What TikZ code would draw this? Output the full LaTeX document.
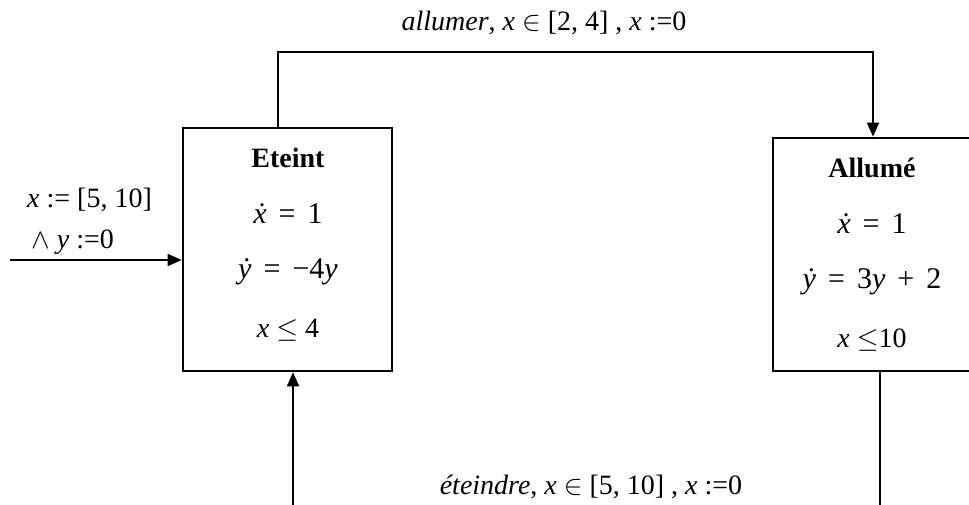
\RequirePackage{fix-cm}
\documentclass[tikz,border=0pt]{standalone}
\usepackage{fontspec}
\setmainfont{Liberation Serif}
\usetikzlibrary{arrows.meta}
\newcommand{\dx}{\textit{ẋ}}
\newcommand{\dy}{\textit{ẏ}}
\newcommand{\opsp}[1]{\hspace{0.4em}#1\hspace{0.4em}}
\begin{document}
\begin{tikzpicture}[x=1pt,y=-1pt,
  statebox/.style={draw, line width=2.6pt, inner sep=0pt},
  txt/.style={inner sep=0pt, font=\fontsize{28}{32}\selectfont},
  mth/.style={inner sep=0pt, font=\fontsize{30}{34}\selectfont},
  ttl/.style={inner sep=0pt, font=\fontsize{28}{32}\selectfont\bfseries},
  conn/.style={line width=1.6pt},
  arr/.style={conn, -{Triangle[length=14pt,width=12pt]}}]
\useasboundingbox (0,0) rectangle (969,504);
\clip (0,0) rectangle (969,504);
\node[statebox, minimum width=209pt, minimum height=243pt] (eteint) at (287.5,249.5) {};
\node[statebox, minimum width=200pt, minimum height=233pt] (allume) at (873,254.5) {};
% contents
\node[ttl] (e1) at (288,158) {Eteint};
\node[mth] (e2) at (288,214) {\dx\opsp{=}1};
\node[mth] (e3) at (288,272) {\dy\opsp{=}−4\textit{y}};
\node[txt] (e4) at (288,330) {\textit{x} $\leq$ 4};
\node[ttl] (a1) at (872,168) {Allumé};
\node[mth] (a2) at (872,224) {\dx\opsp{=}1};
\node[mth] (a3) at (872,282) {\dy\opsp{=}3\textit{y}\opsp{+}2};
\node[txt] (a4) at (872,340) {\textit{x} $\leq$10};
% connectors
\coordinate (t1) at (278,52);
\coordinate (t2) at (873,52);
\draw[arr] (eteint.north -| t1) -- (t1) -- (t2) -- (allume.north);
\coordinate (b1) at (880,510);
\draw[conn] (allume.south -| b1) -- (b1);
\coordinate (b2) at (293,510);
\draw[arr] (b2) -- (eteint.south -| b2);
\coordinate (in) at (10,260);
\draw[arr] (in) -- (in -| eteint.west);
% labels
\node[txt] (ltop) at (544,23) {\textit{allumer}, \textit{x} $\in$ [2, 4] , \textit{x} :=0};
\node[txt] (lbot) at (591,487) {\textit{éteindre}, \textit{x} $\in$ [5, 10] , \textit{x} :=0};
\node[txt, anchor=west] (lin1) at (27,200) {\textit{x} := [5, 10]};
\node[txt, anchor=west] (lin2) at (31,242) {$\wedge$ \textit{y} :=0};
\end{tikzpicture}
\end{document}
